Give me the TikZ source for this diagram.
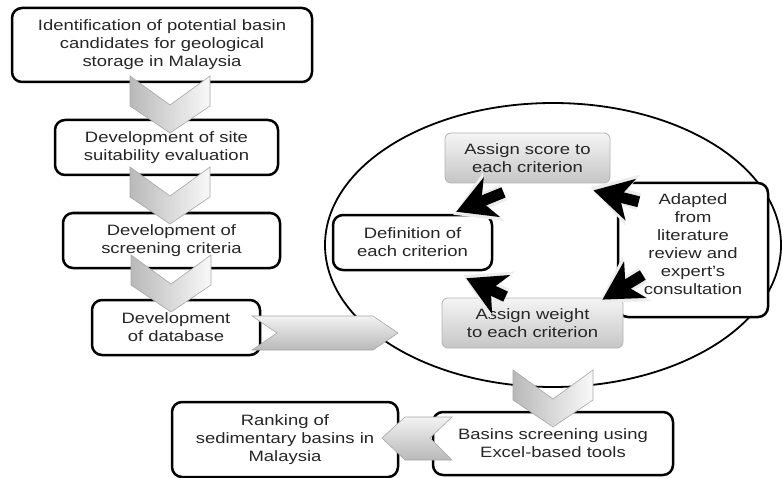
\documentclass[tikz,border=0pt]{standalone}
\usepackage{fontspec}
\setmainfont{Liberation Sans}[FakeStretch=1.23]
\usetikzlibrary{calc,arrows.meta}

\tikzset{
  box/.style={draw=black, line width=2.5pt, rounded corners=10pt, fill=white, align=center,
    inner sep=0pt, text=black!85, font=\fontsize{15}{18}\selectfont},
  gbox/.style={draw=gray!60, line width=0.8pt, rounded corners=6pt, top color=gray!8,
    bottom color=gray!45, align=center, inner sep=0pt, text=black!85, font=\fontsize{15}{18}\selectfont},
  chev/.style={draw=gray!70, line width=0.6pt, left color=gray!55, right color=gray!5},
  hchev/.style={draw=gray!70, line width=0.6pt, top color=gray!10, bottom color=gray!55},
  glow/.style={line width=17pt, gray!15, -{Stealth[length=44pt,width=52pt,inset=12pt]}},
  blk/.style={line width=11pt, black, -{Stealth[length=38pt,width=42pt,inset=11pt]}},
  vchev/.pic={\draw[chev] (-40,0) -- (0,29) -- (40,0) -- (40,30) -- (0,57) -- (-40,30) -- cycle;}
}

\begin{document}
\begin{tikzpicture}[x=1pt,y=-1pt]
  \useasboundingbox (0,0) rectangle (783,478);
  %\draw[help lines,step=50] (0,0) grid (783,478);

  %LEFT COLUMN
  \node[box, minimum width=300pt, minimum height=74pt] (ident) at (162,45)
    {Identification of potential basin\\candidates for geological\\storage in Malaysia};
  \node[box, minimum width=223pt, minimum height=55pt] (site) at (166.5,147.5)
    {Development of site\\suitability evaluation};
  \node[box, minimum width=217pt, minimum height=55pt] (crit) at (171.5,240.5)
    {Development of\\screening criteria};
  \node[box, minimum width=168pt, minimum height=55pt] (db) at (176,327.5)
    {Development\\of database};

  %CYCLE
  \draw[line width=1.8pt] (553,245) ellipse [x radius=228, y radius=142];
  \node[box, minimum width=150pt, minimum height=134pt] (adapt) at (693,250)
    {Adapted\\from\\literature\\review and\\expert's\\consultation\\[-6pt]\mbox{}};
  \node[gbox, minimum width=165pt, minimum height=50pt] (score) at (527.5,158)
    {Assign score to\\each criterion};
  \node[gbox, minimum width=181pt, minimum height=50pt] (weight) at (532.5,323)
    {Assign weight\\to each criterion};
  \node[box, minimum width=159pt, minimum height=55pt] (def) at (412.5,242.5)
    {Definition of\\each criterion};

  \draw[glow] ($(score.south)+(-24,9)$) -- ($(def.north east)+(-40,1)$);
  \draw[glow] ($(adapt.north west)+(22,20)$) -- ($(score.south east)+(-20,4)$);
  \draw[glow] ($(adapt.west)+(26,25)$) -- ($(weight.north east)+(-24,5)$);
  \draw[glow] ($(weight.north west)+(64,-1)$) -- ($(def.south east)+(-30,4)$);
  \draw[blk] ($(score.south)+(-24,9)$) -- ($(def.north east)+(-37,-2)$);
  \draw[blk] ($(adapt.north west)+(22,20)$) -- ($(score.south east)+(-17,7)$);
  \draw[blk] ($(adapt.west)+(26,25)$) -- ($(weight.north east)+(-21,2)$);
  \draw[blk] ($(weight.north west)+(64,-1)$) -- ($(def.south east)+(-27,7)$);

  %BOTTOM ROW
  \node[box, minimum width=240pt, minimum height=63pt] (excel) at (553,443.5)
    {Basins screening using\\Excel-based tools};
  \node[box, minimum width=226pt, minimum height=75pt] (rank) at (285,439.5)
    {Ranking of\\sedimentary basins in\\Malaysia};

  %CHEVRONS
  \pic at (170,76) {vchev};
  \pic at (170,167) {vchev};
  \pic at (171,255) {vchev};
  \pic at (553,370) {vchev};
  \draw[hchev] (252,316) -- (373,316) -- (398,333) -- (373,350) -- (252,350) -- (277,333) -- cycle;
  \draw[hchev] (452,417) -- (405,417) -- (382,438) -- (405,460) -- (452,460) -- (430,438) -- cycle;
\end{tikzpicture}
\end{document}
